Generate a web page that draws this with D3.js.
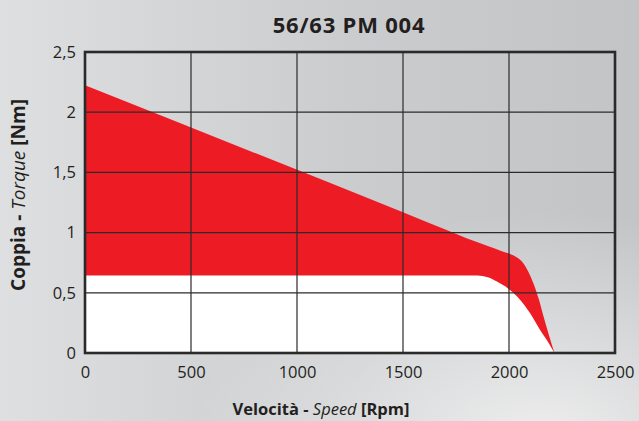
<!DOCTYPE html>
<html>
<head>
<meta charset="utf-8">
<script src="https://cdn.jsdelivr.net/npm/d3@7/dist/d3.min.js"></script>
<style>
  html, body { margin: 0; padding: 0; }
  body { width: 639px; height: 421px; overflow: hidden; font-family: "Open Sans", "Noto Sans", sans-serif; }
</style>
</head>
<body>
<div id="chart"></div>
<script>
const title = '56/63 PM 004';
const speedTicks = [0, 500, 1000, 1500, 2000, 2500];
const torqueTicks = [0, 0.5, 1, 1.5, 2, 2.5];

// upper edge of the red band (peak torque)
const upperSpeed  = [0, 1500, 1900, 1960, 2000, 2030, 2060, 2090, 2115, 2140, 2165, 2190, 2214];
const upperTorque = [2.224, 1.17, 0.888, 0.85, 0.826, 0.802, 0.762, 0.68, 0.58, 0.45, 0.29, 0.14, 0];

// lower edge (continuous torque)
const lowerSpeed  = [0, 1850, 1900, 1941, 1998, 2052, 2099, 2146, 2185, 2214];
const lowerTorque = [0.643, 0.643, 0.63, 0.595, 0.532, 0.443, 0.332, 0.194, 0.09, 0];

const W = 639, H = 421;
const margin = { top: 52, right: 24, bottom: 68, left: 85 };
const width = W - margin.left - margin.right;
const height = H - margin.top - margin.bottom;

const svg = d3.select('#chart').append('svg')
  .attr('width', W).attr('height', H);

// --- background ---
const defs = svg.append('defs');
const lin = defs.append('linearGradient').attr('id', 'bg').attr('x1', 0).attr('y1', 0).attr('x2', 1).attr('y2', 0);
lin.append('stop').attr('offset', '0%').attr('stop-color', '#dedfe1');
lin.append('stop').attr('offset', '55%').attr('stop-color', '#cbccce');
lin.append('stop').attr('offset', '100%').attr('stop-color', '#c3c4c6');
const rad = defs.append('radialGradient').attr('id', 'glow')
  .attr('cx', 0.85).attr('cy', 1.05).attr('r', 0.55);
rad.append('stop').attr('offset', '0%').attr('stop-color', '#fff').attr('stop-opacity', 0.7);
rad.append('stop').attr('offset', '100%').attr('stop-color', '#fff').attr('stop-opacity', 0);
svg.append('rect').attr('width', W).attr('height', H).attr('fill', 'url(#bg)');
svg.append('rect').attr('width', W).attr('height', H).attr('fill', 'url(#glow)');

const g = svg.append('g').attr('transform', `translate(${margin.left},${margin.top})`);

const x = d3.scaleLinear().domain([0, 2500]).range([0, width]);
const y = d3.scaleLinear().domain([0, 2.5]).range([height, 0]);

const upper = upperSpeed.map((s, i) => [s, upperTorque[i]]);
const lower = lowerSpeed.map((s, i) => [s, lowerTorque[i]]);

const area = d3.area()
  .x(d => x(d[0])).y0(y(0)).y1(d => y(d[1]))
  .curve(d3.curveMonotoneX);

g.append('path').datum(upper).attr('d', area).attr('fill', '#ed1c24');
g.append('path').datum(lower).attr('d', area).attr('fill', '#ffffff');

// grid
g.selectAll('.vgrid').data(speedTicks.slice(1, -1)).join('line').attr('class', 'vgrid')
  .attr('x1', d => x(d)).attr('x2', d => x(d)).attr('y1', 0).attr('y2', height)
  .attr('stroke', '#2b2b2b').attr('stroke-width', 1.2);
g.selectAll('.hgrid').data(torqueTicks.slice(1, -1)).join('line').attr('class', 'hgrid')
  .attr('x1', 0).attr('x2', width).attr('y1', d => y(d)).attr('y2', d => y(d))
  .attr('stroke', '#2b2b2b').attr('stroke-width', 1.2);

g.append('rect').attr('width', width).attr('height', height)
  .attr('fill', 'none').attr('stroke', '#2a2a2a').attr('stroke-width', 2.6);

const commaFmt = d => String(d).replace('.', ',');

// axes
const yAxis = g.append('g')
  .call(d3.axisLeft(y).tickValues(torqueTicks).tickSize(0).tickPadding(9).tickFormat(commaFmt));
const xAxis = g.append('g').attr('transform', `translate(0,${height})`)
  .call(d3.axisBottom(x).tickValues(speedTicks).tickSize(0).tickPadding(13).tickFormat(d3.format('d')));
[yAxis, xAxis].forEach(a => {
  a.select('.domain').remove();
  a.selectAll('text').attr('fill', '#231f20').style('font-size', '16.5px')
    .style('font-family', '"Open Sans", sans-serif');
});

// title
svg.append('text').attr('x', margin.left + width / 2 - 1).attr('y', 32.5)
  .attr('text-anchor', 'middle').attr('fill', '#231f20')
  .style('font-size', '22px').style('font-weight', 'bold').style('letter-spacing', '0.8px')
  .text(title);

// x axis title
const xt = svg.append('text').attr('x', 321).attr('y', 415)
  .attr('text-anchor', 'middle').attr('fill', '#231f20').style('font-size', '16.5px');
xt.append('tspan').style('font-weight', 'bold').text('Velocità - ');
xt.append('tspan').style('font-style', 'italic').text('Speed');
xt.append('tspan').style('font-weight', 'bold').text(' [Rpm]');

// y axis title
const yt = svg.append('text')
  .attr('transform', 'translate(25,195) rotate(-90)')
  .attr('text-anchor', 'middle').attr('fill', '#231f20').style('font-size', '19px');
yt.append('tspan').style('font-weight', 'bold').text('Coppia - ');
yt.append('tspan').style('font-style', 'italic').text('Torque');
yt.append('tspan').style('font-weight', 'bold').text(' [Nm]');
</script>
</body>
</html>
